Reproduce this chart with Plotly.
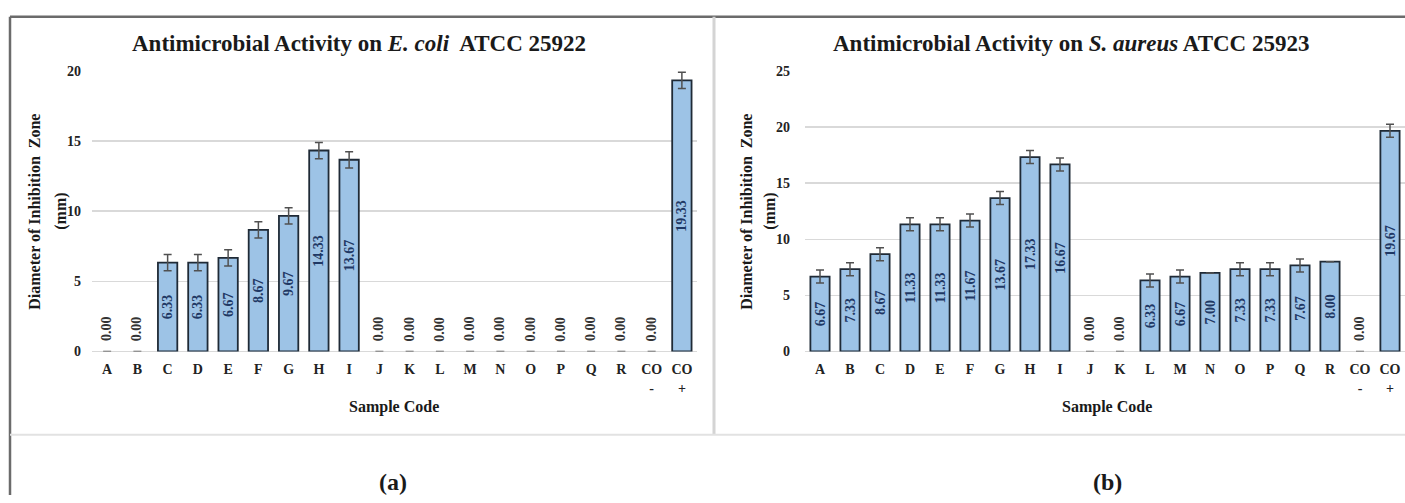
import plotly.graph_objects as go

W, H = 1405, 503

categories = ["A", "B", "C", "D", "E", "F", "G", "H", "I", "J", "K", "L", "M",
              "N", "O", "P", "Q", "R", "CO<br>-", "CO<br>+"]

ecoli_mean = [0.00, 0.00, 6.33, 6.33, 6.67, 8.67, 9.67, 14.33, 13.67, 0.00,
              0.00, 0.00, 0.00, 0.00, 0.00, 0.00, 0.00, 0.00, 0.00, 19.33]
ecoli_sd = [0, 0, 0.58, 0.58, 0.58, 0.58, 0.58, 0.58, 0.58, 0,
            0, 0, 0, 0, 0, 0, 0, 0, 0, 0.58]

saureus_mean = [6.67, 7.33, 8.67, 11.33, 11.33, 11.67, 13.67, 17.33, 16.67, 0.00,
                0.00, 6.33, 6.67, 7.00, 7.33, 7.33, 7.67, 8.00, 0.00, 19.67]
saureus_sd = [0.58, 0.58, 0.58, 0.58, 0.58, 0.58, 0.58, 0.58, 0.58, 0,
              0, 0.58, 0.58, 0, 0.58, 0.58, 0.58, 0, 0, 0.58]

ecoli_ticks = [0, 5, 10, 15, 20]
saureus_ticks = [0, 5, 10, 15, 20, 25]

SERIF = "Liberation Serif, Times New Roman, serif"
BAR_FILL = "#9DC3E6"
BAR_EDGE = "#1F2A36"
GRID = "#D9D9D9"
LABEL_FONT = dict(family=SERIF, size=14, color="#1F3864", weight="bold")
ZERO_FONT = dict(family=SERIF, size=14, color="#333333", weight="bold")


def px(x):
    return x / W


def py(y):
    return 1 - y / H


def bar_trace(values, sd, xa, ya):
    return go.Bar(
        x=categories, y=values,
        xaxis=xa, yaxis=ya,
        marker=dict(color=BAR_FILL,
                    line=dict(color=BAR_EDGE,
                              width=[1.8 if v > 0 else 0 for v in values])),
        error_y=dict(type="data", array=sd, color="#505050", thickness=1.5, width=4),
        text=[f"{v:.2f}" if v > 0 else "" for v in values],
        textposition="inside",
        textangle=-90,
        insidetextanchor="middle",
        constraintext="none",
        insidetextfont=LABEL_FONT,
        cliponaxis=False,
        showlegend=False,
        hoverinfo="skip",
    )


fig = go.Figure()
fig.add_trace(bar_trace(ecoli_mean, ecoli_sd, "x", "y"))
fig.add_trace(bar_trace(saureus_mean, saureus_sd, "x2", "y2"))

tickfont = dict(family=SERIF, size=14, color="#222222", weight="bold")

xcommon = dict(type="category", showgrid=False, showline=False, ticks="",
               tickfont=tickfont, ticklabelstandoff=8, fixedrange=True)
ycommon = dict(showgrid=True, gridcolor=GRID, gridwidth=1.5, zeroline=True,
               zerolinecolor=GRID, zerolinewidth=1.5, showline=False, ticks="",
               tickfont=tickfont, tickmode="array", fixedrange=True)

fig.update_layout(
    width=W, height=H, autosize=False,
    margin=dict(l=0, r=0, t=0, b=0),
    paper_bgcolor="white", plot_bgcolor="white",
    bargap=0.36,
    xaxis=dict(domain=[px(92), px(697)], anchor="y", **xcommon),
    yaxis=dict(domain=[py(355), py(66)], anchor="x", range=[0, 20],
               tickvals=ecoli_ticks, ticklabelstandoff=10, **ycommon),
    xaxis2=dict(domain=[px(805), 1.0], anchor="y2", **xcommon),
    yaxis2=dict(domain=[py(355), py(66)], anchor="x2", range=[0, 25],
                tickvals=saureus_ticks, ticklabelstandoff=14, **ycommon),
)


def ann(text, x, y, size, angle=0):
    return dict(text=text, x=px(x), y=py(y), xref="paper", yref="paper",
                showarrow=False, textangle=angle, xanchor="center", yanchor="middle",
                font=dict(family=SERIF, size=size, color="#1A1A1A", weight="bold"))


annotations = [
    ann("Antimicrobial Activity on <i>E. coli</i>  ATCC 25922", 359, 38, 23),
    ann("Antimicrobial Activity on <i>S. aureus</i> ATCC 25923", 1071, 38, 23),
    ann("Diameter of Inhibition  Zone", 35, 211, 16, -90),
    ann("(mm)", 61, 211, 16, -90),
    ann("Diameter of Inhibition  Zone", 747, 211, 16, -90),
    ann("(mm)", 770, 211, 16, -90),
    ann("Sample Code", 394, 412, 16),
    ann("Sample Code", 1107, 412, 16),
    ann("(a)", 393, 490, 24),
    ann("(b)", 1107, 490, 24),
]

# zero-value data labels, sitting just above the baseline
for xa, ya, values in (("x", "y", ecoli_mean), ("x2", "y2", saureus_mean)):
    for cat, v in zip(categories, values):
        if v == 0:
            annotations.append(dict(
                text=f"{v:.2f}", x=cat, y=v, xref=xa, yref=ya,
                showarrow=False, textangle=-90, xanchor="center", yanchor="bottom",
                yshift=8, font=ZERO_FONT))

fig.update_layout(annotations=annotations)


def line(x0, y0, x1, y1, color, width):
    return dict(type="line", xref="paper", yref="paper",
                x0=px(x0), y0=py(y0), x1=px(x1), y1=py(y1),
                line=dict(color=color, width=width))


shapes = [
    line(10, 10, 1405, 10, "#6B6B6B", 2.5),
    line(10, 10, 10, 503, "#6B6B6B", 2.5),
    line(714, 10, 714, 441, "#D4D4D4", 3),
    line(10, 441, 1405, 441, "#E2E2E2", 2),
]
fig.update_layout(shapes=shapes)

fig.write_html("out.html",
               config={"displayModeBar": False, "staticPlot": True},
               post_script="document.body.style.margin='0';"
                           "document.documentElement.style.overflow='hidden';")
